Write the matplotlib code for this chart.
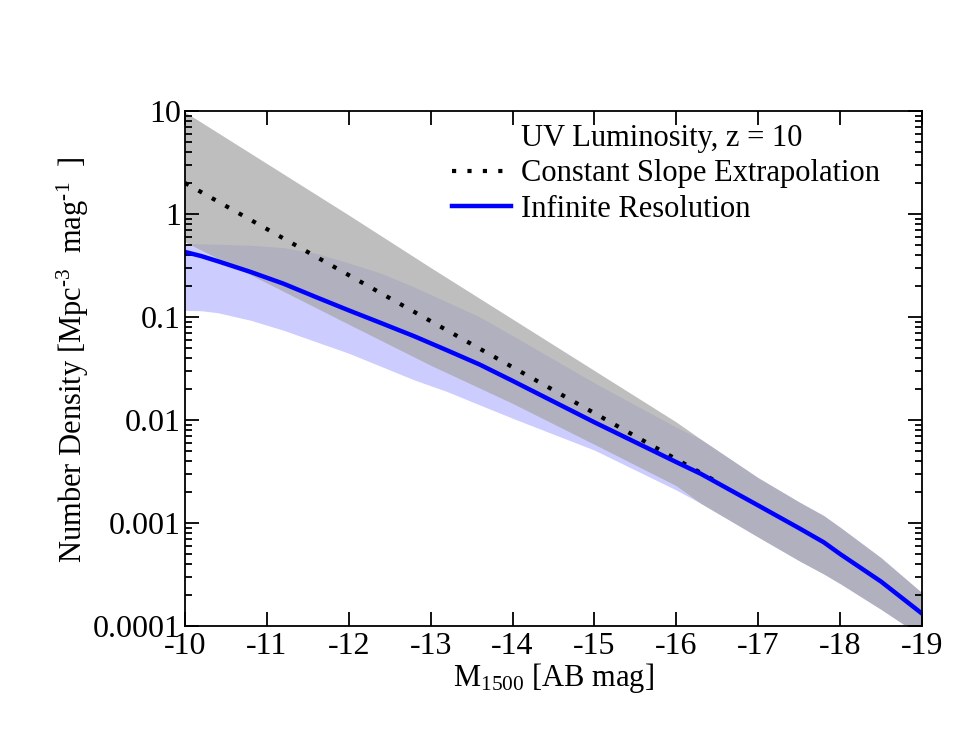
import numpy as np
import matplotlib
matplotlib.use('Agg')
import matplotlib.pyplot as plt
from matplotlib.lines import Line2D

# M1500 grid and values (number density, Mpc^-3 mag^-1)
mag = [-10, -10.2, -10.4, -10.8, -11.2, -11.6, -12, -12.4, -12.8, -13.2, -13.6, -14,
       -15, -16, -16.3, -17, -17.5, -17.8, -18, -18.5, -19]
inf_res = [0.428, 0.39, 0.348, 0.274, 0.211, 0.156, 0.116, 0.087, 0.065, 0.0475, 0.0345, 0.0240,
           0.0095, 0.0039, 0.0030, 0.00148, 0.00089, 0.00065, 0.00050, 0.00027, 0.000132]
inf_hi = [0.515, 0.512, 0.508, 0.497, 0.472, 0.415, 0.335, 0.265, 0.195, 0.14, 0.10, 0.066,
          0.0229, 0.0085, 0.0065, 0.00275, 0.0016, 0.00118, 0.00091, 0.00046, 0.00021]
inf_lo = [0.116, 0.115, 0.110, 0.093, 0.0745, 0.0575, 0.0445, 0.033, 0.0245, 0.0189, 0.014, 0.0104,
          0.0051, 0.00209, 0.00155, 0.00073, 0.00043, 0.00032, 0.000258, 0.000145, 0.000079]

# constant slope extrapolation and its band (faint end)
ext_mag = [-10, -11, -12, -13, -14, -15, -16, -16.3]
ext_hi = [9.77, 3.09, 0.977, 0.302, 0.0955, 0.0302, 0.00955, 0.0065]
ext_lo = [0.535, 0.214, 0.085, 0.034, 0.0145, 0.0058, 0.0023, 0.00155]
slope_mag = [-10, -12, -14, -16, -16.45]
slope_val = [2.0, 0.255, 0.0326, 0.00416, 0.00263]

xticks = [-10, -11, -12, -13, -14, -15, -16, -17, -18, -19]
yticks = [1e1, 1e0, 1e-1, 1e-2, 1e-3, 1e-4]
ylabels = ['10', '1', '0.1', '0.01', '0.001', '0.0001']

plt.rcParams['font.family'] = ['Liberation Serif', 'DejaVu Serif']
plt.rcParams['mathtext.fontset'] = 'custom'
plt.rcParams['mathtext.rm'] = 'Liberation Serif'
plt.rcParams['mathtext.it'] = 'Liberation Serif:italic'
plt.rcParams['axes.unicode_minus'] = False

fig = plt.figure(figsize=(9.55, 7.38), dpi=100)
ax = fig.add_axes([0.1937, 0.1518, 0.7717, 0.6978])

# gray band: extrapolation part, then same as the infinite resolution band
tail = [i for i, m in enumerate(mag) if m < -16.3]
g_mag = ext_mag + [mag[i] for i in tail]
g_hi = ext_hi + [inf_hi[i] for i in tail]
g_lo = ext_lo + [inf_lo[i] for i in tail]

ax.fill_between(mag, inf_lo, inf_hi, color='#ccccff', lw=0)
ax.fill_between(g_mag, g_lo, g_hi, color='#a6a6a6', alpha=0.725, lw=0)
ax.plot(slope_mag, slope_val, color='black', lw=3, dashes=(1, 2.7))
ax.plot(mag, inf_res, color='#0000ff', lw=3.2)

ax.set_yscale('log')
ax.set_xlim(-10, -19)
ax.set_ylim(1e-4, 10)
ax.set_xticks(xticks)
ax.set_xticklabels([str(t) for t in xticks])
ax.set_yticks(yticks)
ax.set_yticklabels(ylabels)
ax.minorticks_on()
ax.xaxis.set_minor_locator(matplotlib.ticker.NullLocator())
ax.yaxis.set_minor_formatter(matplotlib.ticker.NullFormatter())

ax.tick_params(which='both', direction='in', top=True, right=True, width=1.3)
ax.tick_params(which='major', length=10, labelsize=23)
ax.tick_params(axis='y', which='major', pad=3)
ax.tick_params(axis='x', which='major', pad=4)
ax.tick_params(which='minor', length=5)
for s in ax.spines.values():
    s.set_linewidth(1.3)

ax.set_xlabel(r'M$_{1500}$ [AB mag]', fontsize=22, labelpad=0)
ax.set_ylabel(r'Number Density [Mpc$^{\text{-3}}$  mag$^{\text{-1}}$  ]', fontsize=22)
ax.yaxis.set_label_coords(-0.128, 0.517)

handles = [Line2D([], [], color='none'),
           Line2D([], [], color='black', lw=3, dashes=(1, 2.7)),
           Line2D([], [], color='#0000ff', lw=3.2)]
labels = ['UV Luminosity, z = 10', 'Constant Slope Extrapolation', 'Infinite Resolution']
ax.legend(handles, labels, loc='upper left', bbox_to_anchor=(0.362, 0.974), frameon=False,
          fontsize=22, handlelength=1.95, handletextpad=0.3, labelspacing=0.2, borderpad=0,
          borderaxespad=0)

fig.savefig('out.png', dpi=100)
